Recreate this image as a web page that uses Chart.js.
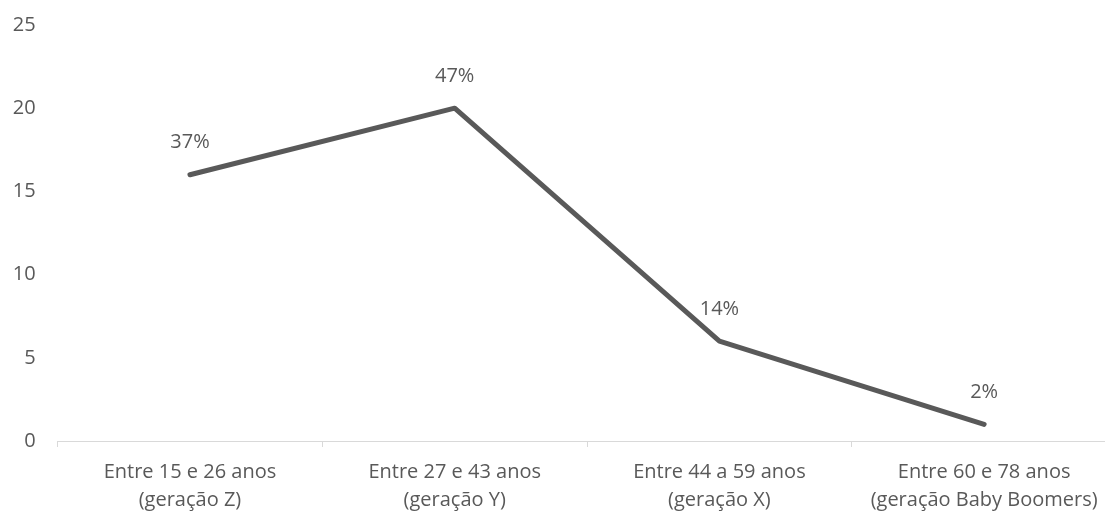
<!DOCTYPE html>
<html>
<head>
<meta charset="utf-8">
<script src="https://cdn.jsdelivr.net/npm/chart.js@4.4.1/dist/chart.umd.min.js"></script>
<style>
  html, body { margin: 0; padding: 0; background: #fff; overflow: hidden; }
  #wrap { width: 1120px; height: 520px; }
</style>
</head>
<body>
<div id="wrap"><canvas id="grafico"></canvas></div>
<script>
// faixas etárias e contagem de respostas
const faixas = [
  ['Entre 15 e 26 anos', '(geração Z)'],
  ['Entre 27 e 43 anos', '(geração Y)'],
  ['Entre 44 a 59 anos', '(geração X)'],
  ['Entre 60 e 78 anos', '(geração Baby Boomers)']
];
const respostas = [16, 20, 6, 1];
const ticksY = [0, 5, 10, 15, 20, 25];

const corTexto = '#595959';
const fonte = { family: '"Open Sans", "Noto Sans", sans-serif', size: 20 };

const total = respostas.reduce((a, b) => a + b, 0);

// rótulos de porcentagem acima de cada ponto
const rotulos = {
  id: 'rotulos',
  afterDatasetsDraw(chart) {
    const ctx = chart.ctx;
    const meta = chart.getDatasetMeta(0);
    ctx.save();
    ctx.font = fonte.size + 'px ' + fonte.family;
    ctx.fillStyle = corTexto;
    ctx.textAlign = 'center';
    ctx.textBaseline = 'middle';
    meta.data.forEach(function(p, i) {
      const pct = Math.round(respostas[i] / total * 100) + '%';
      ctx.fillText(pct, p.x, p.y - 32);
    });
    ctx.restore();
  }
};

new Chart(document.getElementById('grafico'), {
  type: 'line',
  data: {
    labels: faixas,
    datasets: [{
      data: respostas,
      borderColor: '#595959',
      borderWidth: 5,
      borderCapStyle: 'round',
      borderJoinStyle: 'round',
      pointRadius: 0,
      tension: 0,
      fill: false
    }]
  },
  options: {
    responsive: true,
    maintainAspectRatio: false,
    animation: false,
    layout: { padding: { top: 25, right: 3.5, left: 0, bottom: 0 } },
    plugins: { legend: { display: false }, tooltip: { enabled: false } },
    scales: {
      x: {
        offset: true,
        grid: {
          offset: true,
          drawOnChartArea: false,
          drawTicks: true,
          tickLength: 6,
          color: '#d9d9d9'
        },
        border: { color: '#d9d9d9', width: 1 },
        ticks: {
          color: corTexto,
          font: Object.assign({ lineHeight: 1.4 }, fonte),
          padding: 11,
          maxRotation: 0,
          autoSkip: false
        },
        afterFit(scale) {
          scale.height = 79;
          scale.paddingLeft = 0;
          scale.paddingRight = 0;
        }
      },
      y: {
        min: 0,
        max: 25,
        afterBuildTicks(scale) { scale.ticks = ticksY.map(v => ({ value: v })); },
        grid: { display: false, drawTicks: false },
        border: { display: false },
        ticks: { color: corTexto, font: fonte, padding: 22 },
        afterFit(scale) {
          scale.width = 57.6;
          scale.paddingTop = 0;
          scale.paddingBottom = 0;
        }
      }
    }
  },
  plugins: [rotulos]
});
</script>
</body>
</html>
